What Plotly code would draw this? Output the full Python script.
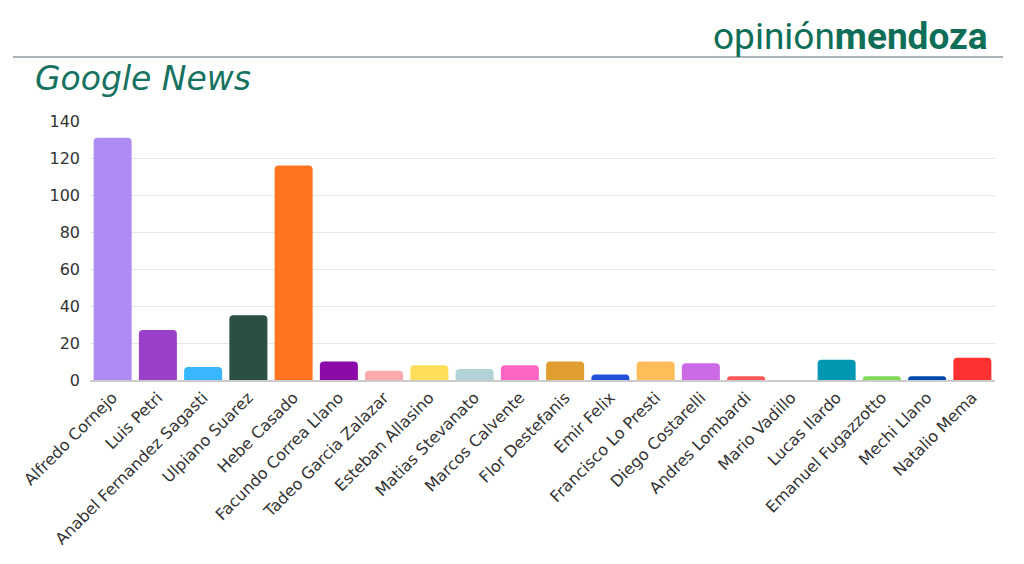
import plotly.graph_objects as go

# Google News mentions per candidate
names = [
    "Alfredo Cornejo", "Luis Petri", "Anabel Fernandez Sagasti", "Ulpiano Suarez",
    "Hebe Casado", "Facundo Correa Llano", "Tadeo Garcia Zalazar", "Esteban Allasino",
    "Matias Stevanato", "Marcos Calvente", "Flor Destefanis", "Emir Felix",
    "Francisco Lo Presti", "Diego Costarelli", "Andres Lombardi", "Mario Vadillo",
    "Lucas Ilardo", "Emanuel Fugazzotto", "Mechi Llano", "Natalio Mema",
]
values = [131, 27, 7, 35, 116, 10, 5, 8, 6, 8, 10, 3, 10, 9, 2, 0, 11, 2, 2, 12]
colors = [
    "#AE8CF4", "#9940C8", "#38B6FF", "#2A5041", "#FF751F", "#8B0AA8", "#FFAAAA",
    "#FFDE59", "#B1D3D8", "#FF66C4", "#E09E30", "#2051D8", "#FFBD59", "#CB6CE6",
    "#FF5757", "#A0A0A0", "#0097B2", "#7ED957", "#004AAD", "#FF3131",
]

W, H = 1024, 564
OFF = 8  # page body margin
# plot area on screen: x 90..995, y 121..380
ML, MT = 90 - OFF, 121 - OFF
MR, MB = W - (995 - OFF), H - (380 - OFF)
pw, ph = W - ML - MR, H - MT - MB


def px(x):
    return (x - OFF - ML) / pw


def py(y):
    return (H - MB - (y - OFF)) / ph


fig = go.Figure()
fig.add_trace(go.Bar(
    x=names,
    y=values,
    marker=dict(color=colors, cornerradius=4, line=dict(width=0)),
    hoverinfo="x+y",
))

fig.update_layout(
    width=W, height=H,
    margin=dict(l=ML, r=MR, t=MT, b=MB),
    paper_bgcolor="white",
    plot_bgcolor="white",
    bargap=0.16,
    showlegend=False,
    font=dict(family="DejaVu Sans, sans-serif", color="#333333"),
    xaxis=dict(
        tickangle=-45,
        tickfont=dict(size=16, color="#333333"),
        showline=True, linecolor="#cccccc", linewidth=2,
        ticks="", range=[-0.5, len(names) - 0.5],
        automargin=False,
    ),
    yaxis=dict(
        range=[0, 140], dtick=20,
        tickfont=dict(size=16, color="#333333"),
        gridcolor="#e6e6e6", gridwidth=1,
        zeroline=False, ticks="",
        automargin=False, ticklabelstandoff=9,
    ),
    shapes=[dict(
        type="line", xref="paper", yref="paper",
        x0=px(13), x1=px(1003), y0=py(57), y1=py(57),
        line=dict(color="#8c9ca2", width=1.5),
    )],
    annotations=[
        dict(
            text="<i>Google News</i>", xref="paper", yref="paper",
            x=px(33), y=py(78), xanchor="left", yanchor="middle",
            showarrow=False,
            font=dict(size=33, color="#17725F", family="DejaVu Sans, sans-serif"),
        ),
        dict(
            text="opinión<b>mendoza</b>", xref="paper", yref="paper",
            x=px(990), y=py(36), xanchor="right", yanchor="middle",
            showarrow=False,
            font=dict(size=37, color="#0F6E57", family="Roboto, sans-serif"),
        ),
    ],
)

fig.write_html("out.html")
